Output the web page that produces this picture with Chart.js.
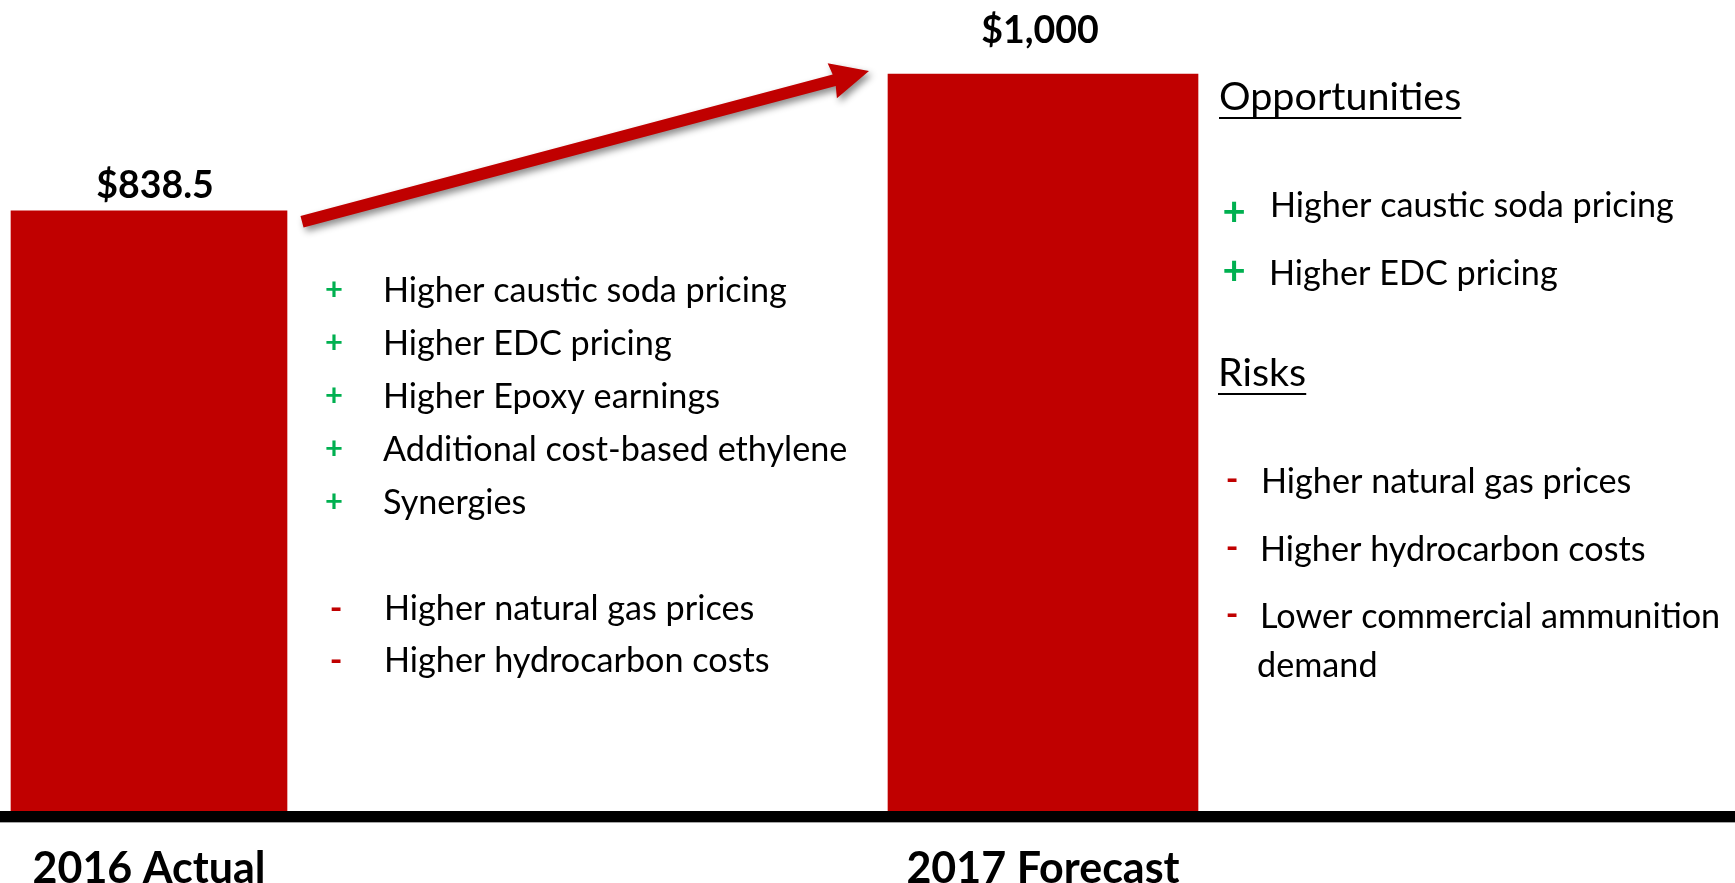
<!DOCTYPE html>
<html>
<head>
<meta charset="utf-8">
<script src="https://cdn.jsdelivr.net/npm/chart.js@4.4.1/dist/chart.umd.min.js"></script>
<style>
  html, body { margin: 0; padding: 0; background: #fff; }
  #wrap { position: relative; width: 1735px; height: 883px; }
</style>
</head>
<body>
<div id="wrap"><canvas id="ebitda-chart"></canvas></div>
<script>
const categories = ["2016 Actual", "2017 Forecast"];
const actualValues = [838.5, null];
const forecastValues = [null, 1000];
const valueLabels = ["$838.5", "$1,000"];
const axisFloor = 130;

const bridgeUps = [
  "Higher caustic soda pricing",
  "Higher EDC pricing",
  "Higher Epoxy earnings",
  "Additional cost-based ethylene",
  "Synergies",
];
const bridgeDowns = ["Higher natural gas prices", "Higher hydrocarbon costs"];
const opportunities = ["Higher caustic soda pricing", "Higher EDC pricing"];
const risks = ["Higher natural gas prices", "Higher hydrocarbon costs", "Lower commercial ammunition", "demand"];

const RED = "#c00000";
const GREEN = "#00b050";
const FONT = "Lato, 'Open Sans', sans-serif";
const ITEM_SIZE = 34.2;

// full-width black base line under the bars
const baseLinePlugin = {
  id: "base-line",
  afterDatasetsDraw(chart) {
    const { ctx, chartArea } = chart;
    ctx.save();
    ctx.fillStyle = "#000";
    ctx.fillRect(0, chartArea.bottom, chart.width, 11);
    ctx.fillStyle = "rgba(0,0,0,0.35)";
    ctx.fillRect(0, chartArea.bottom + 11, chart.width, 1);
    ctx.restore();
  },
};

const valueLabelPlugin = {
  id: "value-labels",
  afterDatasetsDraw(chart) {
    const { ctx } = chart;
    const lift = [13, 31];
    const shift = [6, -3];
    ctx.save();
    ctx.font = `bold 37.5px ${FONT}`;
    ctx.fillStyle = "#000";
    ctx.textAlign = "center";
    ctx.textBaseline = "alphabetic";
    valueLabels.forEach((label, i) => {
      const bar = chart.getDatasetMeta(i).data[i];
      ctx.fillText(label, bar.x + shift[i], bar.y - lift[i]);
    });
    ctx.restore();
  },
};

const arrowPlugin = {
  id: "growth-arrow",
  afterDatasetsDraw(chart) {
    const { ctx } = chart;
    const a = chart.getDatasetMeta(0).data[0];
    const b = chart.getDatasetMeta(1).data[1];
    const x1 = a.x + a.width / 2 + 15;
    const y1 = a.y + 11;
    const x2 = b.x - b.width / 2 - 19;
    const y2 = b.y - 3;
    const len = Math.hypot(x2 - x1, y2 - y1);
    const headLen = 36, headHalf = 18, half = 6;
    ctx.save();
    ctx.shadowColor = "rgba(0,0,0,0.45)";
    ctx.shadowBlur = 7;
    ctx.shadowOffsetX = 3;
    ctx.shadowOffsetY = 4;
    ctx.translate(x1, y1);
    ctx.rotate(Math.atan2(y2 - y1, x2 - x1));
    ctx.beginPath();
    ctx.moveTo(0, -half);
    ctx.lineTo(len - headLen, -half);
    ctx.lineTo(len - headLen - 2, -headHalf);
    ctx.lineTo(len, 0);
    ctx.lineTo(len - headLen - 2, headHalf);
    ctx.lineTo(len - headLen, half);
    ctx.lineTo(0, half);
    ctx.closePath();
    ctx.fillStyle = RED;
    ctx.fill();
    ctx.restore();
  },
};

function drawItem(ctx, item) {
  if (item.sign) {
    ctx.textAlign = "center";
    ctx.font = `bold ${item.signSize}px ${FONT}`;
    ctx.fillStyle = item.sign === "+" ? GREEN : RED;
    ctx.fillText(item.sign, item.signX, item.signY);
  }
  ctx.textAlign = "left";
  ctx.font = `${ITEM_SIZE}px ${FONT}`;
  ctx.fillStyle = "#000";
  ctx.fillText(item.text, item.x, item.y);
}

function drawHeading(ctx, text, x, y) {
  ctx.font = `39.5px ${FONT}`;
  ctx.textAlign = "left";
  ctx.fillStyle = "#000";
  ctx.fillText(text, x, y);
  const w = ctx.measureText(text).width;
  ctx.fillRect(x, y + 7, w, 2);
}

const notesPlugin = {
  id: "notes",
  afterDraw(chart) {
    const { ctx } = chart;
    ctx.save();
    ctx.textBaseline = "alphabetic";
    bridgeUps.forEach((text, i) => drawItem(ctx, {
      sign: "+", text, signX: 334, signY: 300 + 53 * i, signSize: 31, x: 383, y: 302 + 53 * i,
    }));
    bridgeDowns.forEach((text, i) => drawItem(ctx, {
      sign: "-", text, signX: 336, signY: 620 + 52 * i, signSize: 34, x: 384, y: 620 + 52 * i,
    }));

    drawHeading(ctx, "Opportunities", 1219, 110);
    const oppY = [217, 285];
    const oppSignY = [225, 284];
    opportunities.forEach((text, i) => drawItem(ctx, {
      sign: "+", text, signX: 1234, signY: oppSignY[i], signSize: 40, x: 1270 - i, y: oppY[i],
    }));

    drawHeading(ctx, "Risks", 1218, 386);
    const riskY = [493, 561, 628, 677];
    risks.forEach((text, i) => drawItem(ctx, {
      sign: i < 3 ? "-" : "", text, signX: 1232, signY: riskY[i] - 2, signSize: 34,
      x: i === 0 ? 1261 : i < 3 ? 1260 : 1257, y: riskY[i],
    }));
    ctx.restore();
  },
};

new Chart(document.getElementById("ebitda-chart"), {
  type: "bar",
  data: {
    labels: categories,
    datasets: [
      {
        data: actualValues,
        backgroundColor: RED,
        barThickness: 276,
        grouped: false,
        base: axisFloor,
        clip: false,
      },
      {
        data: forecastValues,
        backgroundColor: RED,
        barThickness: 310,
        grouped: false,
        base: axisFloor,
        clip: false,
      },
    ],
  },
  options: {
    responsive: true,
    maintainAspectRatio: false,
    animation: false,
    layout: { padding: { left: 149, right: 692, top: 74, bottom: 0 } },
    plugins: {
      legend: { display: false },
      tooltip: { enabled: false },
    },
    scales: {
      x: {
        offset: false,
        grid: { display: false },
        border: { display: false },
        afterFit(scale) { scale.height = 72; },
        ticks: {
          color: "#000",
          padding: 29,
          maxRotation: 0,
          autoSkip: false,
          font: { family: FONT, size: 43, weight: "bold", lineHeight: 1 },
        },
      },
      y: { display: false, min: axisFloor, max: 1000 },
    },
  },
  plugins: [baseLinePlugin, arrowPlugin, valueLabelPlugin, notesPlugin],
});
</script>
</body>
</html>
